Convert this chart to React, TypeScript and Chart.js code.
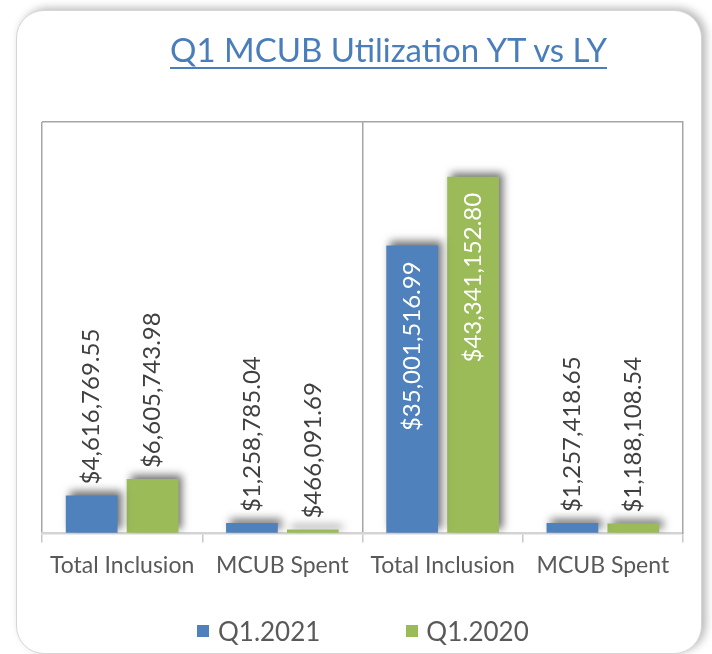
import React, { useEffect, useRef } from "react";
import { Chart, registerables } from "chart.js";

Chart.register(...registerables);

const categories = ["Total Inclusion", "MCUB Spent", "Total Inclusion", "MCUB Spent"];
const seriesNames = ["Q1.2021", "Q1.2020"];
const q2021 = [4616769.55, 1258785.04, 35001516.99, 1257418.65];
const q2020 = [6605743.98, 466091.69, 43341152.8, 1188108.54];
const yMax = 50000000;
const insideThreshold = 20000000;

const BLUE = "#4F81BD";
const GREEN = "#9BBB59";
const FONT = "Lato, 'Open Sans', sans-serif";

const fmt = (v: number) =>
  "$" + v.toLocaleString("en-US", { minimumFractionDigits: 2, maximumFractionDigits: 2 });

const shadowAndLabels = {
  id: "shadowAndLabels",
  beforeDatasetsDraw(chart: any) {
    const ctx = chart.ctx;
    ctx.save();
    ctx.shadowColor = "rgba(0,0,0,0.55)";
    ctx.shadowBlur = 8;
    ctx.shadowOffsetX = 4;
    ctx.shadowOffsetY = -4;
  },
  afterDatasetsDraw(chart: any) {
    const ctx = chart.ctx;
    ctx.restore();
    chart.data.datasets.forEach((ds: any, di: number) => {
      const meta = chart.getDatasetMeta(di);
      meta.data.forEach((bar: any, i: number) => {
        const v = ds.data[i];
        const text = fmt(v);
        ctx.save();
        ctx.font = `24px ${FONT}`;
        ctx.textBaseline = "middle";
        if (v > insideThreshold) {
          ctx.translate(bar.x, bar.y + 16);
          ctx.rotate(-Math.PI / 2);
          ctx.textAlign = "right";
          ctx.fillStyle = "#FFFFFF";
        } else {
          ctx.translate(bar.x, bar.y - 11);
          ctx.rotate(-Math.PI / 2);
          ctx.textAlign = "left";
          ctx.fillStyle = "#404040";
        }
        ctx.fillText(text, 0, 0);
        ctx.restore();
      });
    });
  },
};

export default function App() {
  const canvasRef = useRef<HTMLCanvasElement | null>(null);

  useEffect(() => {
    if (!canvasRef.current) return;
    const chart = new Chart(canvasRef.current, {
      type: "bar",
      data: {
        labels: categories,
        datasets: [
          {
            label: seriesNames[0],
            data: q2021,
            backgroundColor: BLUE,
            barPercentage: 0.85,
            categoryPercentage: 0.76,
          },
          {
            label: seriesNames[1],
            data: q2020,
            backgroundColor: GREEN,
            barPercentage: 0.85,
            categoryPercentage: 0.76,
          },
        ],
      },
      options: {
        responsive: false,
        animation: false,
        devicePixelRatio: 1,
        layout: { padding: { left: 42, right: 29, top: 122, bottom: 66 } },
        plugins: {
          legend: { display: false },
          tooltip: { enabled: false },
          title: { display: false },
        },
        scales: {
          x: {
            offset: true,
            grid: {
              offset: true,
              color: (c: any) => (c.index % 2 === 0 ? "#A6A6A6" : "rgba(0,0,0,0)"),
              lineWidth: 1.5,
              tickColor: "#C8C8C8",
              tickLength: 9,
              drawTicks: true,
            },
            border: { display: true, color: "#D4D4D4", width: 2.5 },
            ticks: {
              color: "#595959",
              font: { family: FONT, size: 23 },
              padding: 9,
              maxRotation: 0,
              autoSkip: false,
            },
          },
          y: {
            min: 0,
            max: yMax,
            ticks: { display: false, stepSize: yMax },
            grid: {
              color: (c: any) => (c.tick && c.tick.value === yMax ? "#A6A6A6" : "rgba(0,0,0,0)"),
              lineWidth: 1.5,
              drawTicks: false,
            },
            border: { display: false },
          },
          yRight: {
            position: "right",
            min: 0,
            max: yMax,
            ticks: { display: false },
            grid: { drawOnChartArea: false, drawTicks: false },
            border: { display: true, color: "#A6A6A6", width: 1.5 },
          },
        },
      },
      plugins: [shadowAndLabels],
    });
    return () => chart.destroy();
  }, []);

  return (
    <div
      style={{
        position: "fixed",
        left: 0,
        top: 0,
        width: 712,
        height: 654,
        overflow: "hidden",
        background: "#FFFFFF",
      }}
    >
      <div
        style={{
          position: "absolute",
          left: 16,
          top: 10,
          width: 684,
          height: 642,
          borderRadius: 28,
          border: "1.5px solid #D6D6D6",
          boxShadow: "4px -2px 8px rgba(0,0,0,0.28)",
          background: "#FFFFFF",
        }}
      />
      <canvas
        ref={canvasRef}
        width={712}
        height={654}
        style={{ position: "absolute", left: 0, top: 0, width: 712, height: 654 }}
      />
      <div
        style={{
          position: "absolute",
          left: 0,
          top: 29,
          width: 777,
          textAlign: "center",
          fontFamily: FONT,
          fontSize: 33,
          color: "#4A7EBB",
          textDecoration: "underline",
          textDecorationThickness: "2px",
          textUnderlineOffset: "5px",
          lineHeight: "40px",
          whiteSpace: "nowrap",
        }}
      >
        Q1 MCUB Utilization YT vs LY
      </div>
      <div
        style={{
          position: "absolute",
          left: 197,
          top: 614,
          fontFamily: FONT,
          fontSize: 26,
          color: "#595959",
          lineHeight: "34px",
          display: "flex",
          alignItems: "center",
          whiteSpace: "nowrap",
        }}
      >
        <span style={{ display: "inline-block", width: 12, height: 12, background: BLUE, marginRight: 9 }} />
        <span>{seriesNames[0]}</span>
        <span
          style={{ display: "inline-block", width: 12, height: 12, background: GREEN, marginLeft: 86, marginRight: 8 }}
        />
        <span>{seriesNames[1]}</span>
      </div>
    </div>
  );
}
